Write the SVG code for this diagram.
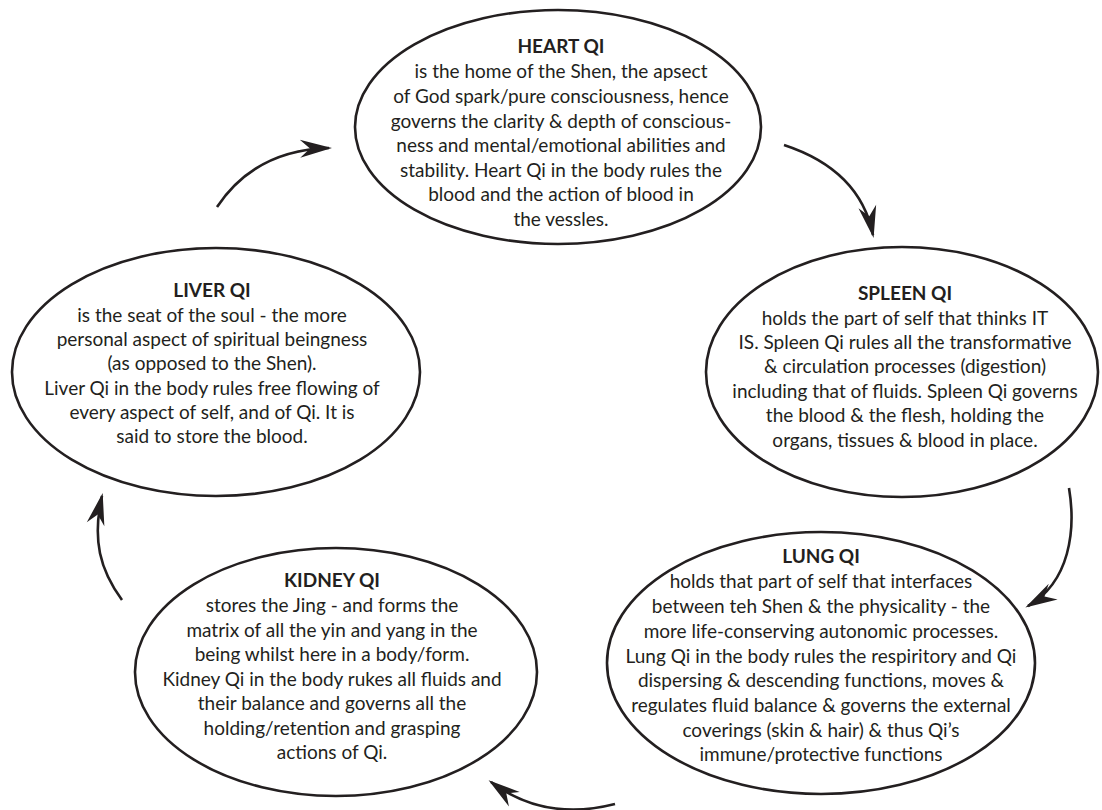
<svg xmlns="http://www.w3.org/2000/svg" width="1102" height="810" viewBox="0 0 1102 810">
<style>
.bg{fill:#ffffff}
.node ellipse{fill:#ffffff;stroke:#231f20;stroke-width:2.6}
.t{font-family:Lato,"Open Sans","Liberation Sans",sans-serif;font-size:19px;fill:#231f20;text-anchor:middle}
.h{font-weight:bold}
.conn path{fill:none;stroke:#231f20;stroke-width:2.6}
</style>
<defs>
<marker id="ah" viewBox="-34 -12 38 24" refX="-3" refY="0" markerWidth="38" markerHeight="24" markerUnits="userSpaceOnUse" orient="auto">
<path d="M0,0 L-32,-9 L-22,0 L-32,9 Z" fill="#231f20"/>
</marker>
</defs>
<rect class="bg" x="0" y="0" width="1102" height="810"/>
<g id="connectors" class="conn">
<path d="M217,207 Q255,150 329,148" marker-end="url(#ah)"/>
<path d="M784,145 Q860,170 873,235" marker-end="url(#ah)"/>
<path d="M1069,488 C1076,530 1070,582 1028,606" marker-end="url(#ah)"/>
<path d="M615,804 Q545,822 491,782" marker-end="url(#ah)"/>
<path d="M122,600 C100,570 92,540 102,496" marker-end="url(#ah)"/>
</g>
<g id="heart" class="node">
<ellipse cx="558" cy="127" rx="203" ry="117"/>
<text class="t h" x="561" y="53">HEART QI</text>
<text class="t" x="561" y="78">is the home of the Shen, the apsect</text>
<text class="t" x="561" y="103">of God spark/pure consciousness, hence</text>
<text class="t" x="561" y="128">governs the clarity &amp; depth of conscious-</text>
<text class="t" x="561" y="152">ness and mental/emotional abilities and</text>
<text class="t" x="561" y="177">stability. Heart Qi in the body rules the</text>
<text class="t" x="561" y="201">blood and the action of blood in</text>
<text class="t" x="561" y="226">the vessles.</text>
</g>
<g id="liver" class="node">
<ellipse cx="216" cy="372" rx="204" ry="124"/>
<text class="t h" x="212" y="297">LIVER QI</text>
<text class="t" x="212" y="322">is the seat of the soul - the more</text>
<text class="t" x="212" y="346">personal aspect of spiritual beingness</text>
<text class="t" x="212" y="370">(as opposed to the Shen).</text>
<text class="t" x="212" y="395">Liver Qi in the body rules free flowing of</text>
<text class="t" x="212" y="419">every aspect of self, and of Qi. It is</text>
<text class="t" x="212" y="443">said to store the blood.</text>
</g>
<g id="spleen" class="node">
<ellipse cx="902" cy="372" rx="196" ry="125"/>
<text class="t h" x="905" y="300">SPLEEN QI</text>
<text class="t" x="905" y="325">holds the part of self that thinks IT</text>
<text class="t" x="905" y="349">IS. Spleen Qi rules all the transformative</text>
<text class="t" x="905" y="373">&amp; circulation processes (digestion)</text>
<text class="t" x="905" y="398">including that of fluids. Spleen Qi governs</text>
<text class="t" x="905" y="422">the blood &amp; the flesh, holding the</text>
<text class="t" x="905" y="447">organs, tissues &amp; blood in place.</text>
</g>
<g id="lung" class="node">
<ellipse cx="821" cy="663" rx="214" ry="131"/>
<text class="t h" x="821" y="563">LUNG QI</text>
<text class="t" x="821" y="588">holds that part of self that interfaces</text>
<text class="t" x="821" y="613">between teh Shen &amp; the physicality - the</text>
<text class="t" x="821" y="638">more life-conserving autonomic processes.</text>
<text class="t" x="821" y="663">Lung Qi in the body rules the respiritory and Qi</text>
<text class="t" x="821" y="687">dispersing &amp; descending functions, moves &amp;</text>
<text class="t" x="821" y="712">regulates fluid balance &amp; governs the external</text>
<text class="t" x="821" y="737">coverings (skin &amp; hair) &amp; thus Qi’s</text>
<text class="t" x="821" y="761">immune/protective functions</text>
</g>
<g id="kidney" class="node">
<ellipse cx="336" cy="672" rx="201" ry="124"/>
<text class="t h" x="332" y="587">KIDNEY QI</text>
<text class="t" x="332" y="612">stores the Jing - and forms the</text>
<text class="t" x="332" y="637">matrix of all the yin and yang in the</text>
<text class="t" x="332" y="661">being whilst here in a body/form.</text>
<text class="t" x="332" y="686">Kidney Qi in the body rukes all fluids and</text>
<text class="t" x="332" y="710">their balance and governs all the</text>
<text class="t" x="332" y="735">holding/retention and grasping</text>
<text class="t" x="332" y="759">actions of Qi.</text>
</g>
</svg>
